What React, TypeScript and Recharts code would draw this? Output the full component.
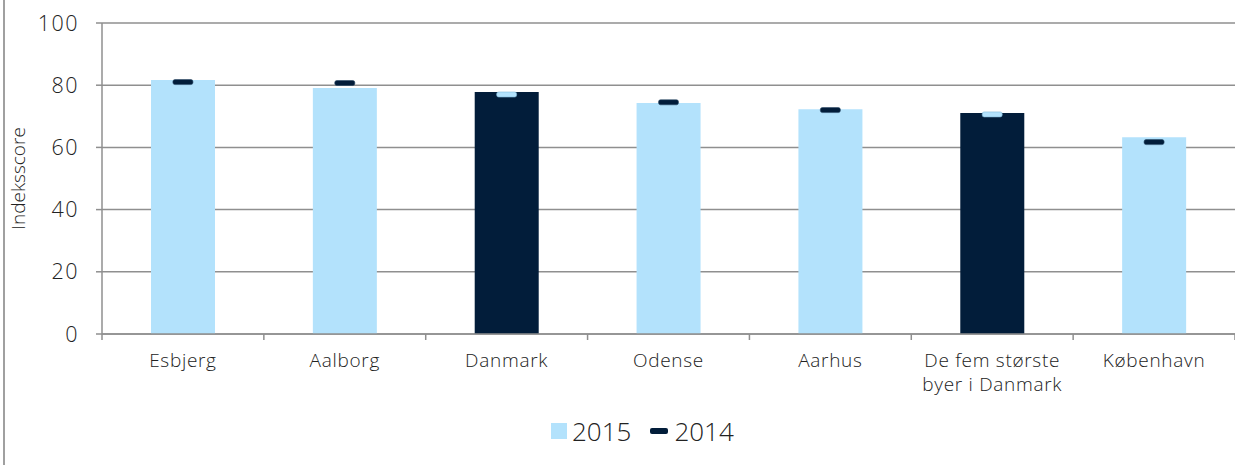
// Indeksscore by city — 2015 bars with the 2014 score as a short marker on top.

import { Bar, Cell, ComposedChart, CartesianGrid, Line, XAxis, YAxis } from "recharts";

const cities = [
  "Esbjerg",
  "Aalborg",
  "Danmark",
  "Odense",
  "Aarhus",
  "De fem største\nbyer i Danmark",
  "København",
];
const score2015 = [81.7, 79.1, 77.8, 74.3, 72.3, 71.1, 63.3];
const score2014 = [81.0, 80.7, 77.0, 74.5, 72.0, 70.6, 61.7];
const highlighted = ["Danmark", "De fem største\nbyer i Danmark"];
const yTicks = [0, 20, 40, 60, 80, 100];

const LIGHT = "#b3e2fc";
const DARK = "#021d3a";
const GRID = "#8f8f8f";
const TEXT = "#222";
const FONT = "'Open Sans', sans-serif";

const data = cities.map((city, i) => ({
  city,
  v2015: score2015[i],
  v2014: score2014[i],
}));

// category label plus the small tick marks that sit on the category edges
function CityTick({ x, y, payload, index, visibleTicksCount }: any) {
  const lines = String(payload.value).split("\n");
  const half = payload.offset ?? 0;
  const last = index === visibleTicksCount - 1;
  return (
    <g>
      <line x1={x - half} x2={x - half} y1={y - 8} y2={y - 2} stroke={GRID} strokeWidth={1.5} />
      {last && <line x1={x + half} x2={x + half} y1={y - 8} y2={y - 2} stroke={GRID} strokeWidth={1.5} />}
      <text
        x={x}
        y={y}
        textAnchor="middle"
        fill={TEXT}
        fontSize={19}
        fontFamily={FONT}
        fontWeight={300}
        letterSpacing={0.7}
      >
        {lines.map((l, i) => (
          <tspan key={i} x={x} dy={i === 0 ? 25 : 24}>
            {l}
          </tspan>
        ))}
      </text>
    </g>
  );
}

function Marker({ cx, cy, payload }: any) {
  if (cx == null || cy == null) return null;
  const onDark = highlighted.includes(payload.city);
  return (
    <rect
      x={cx - 10}
      y={cy - 2.5}
      width={20}
      height={5}
      rx={2}
      fill={onDark ? LIGHT : DARK}
      stroke={onDark ? "#7fb9d8" : "#2a4a66"}
      strokeWidth={0.6}
    />
  );
}

export default function App() {
  return (
    <div style={{ position: "absolute", left: 0, top: 0, width: 1235, height: 465, background: "#fff" }}>
      <div style={{ position: "absolute", left: 3, top: 0, width: 2, height: 465, background: "#a0a0a0" }} />
      <ComposedChart
        width={1235}
        height={465}
        data={data}
        margin={{ top: 23, right: 0, bottom: 71, left: 0 }}
        barSize={64}
      >
        <CartesianGrid vertical={false} stroke={GRID} strokeWidth={1.5} />
        <XAxis
          dataKey="city"
          interval={0}
          height={60}
          tickSize={8}
          tickMargin={0}
          axisLine={{ stroke: GRID, strokeWidth: 1.5 }}
          tickLine={false}
          tick={<CityTick />}
        />
        <YAxis
          domain={[0, 100]}
          ticks={yTicks}
          width={102}
          tickSize={6}
          tickMargin={17}
          axisLine={{ stroke: GRID, strokeWidth: 1.5 }}
          tickLine={{ stroke: GRID, strokeWidth: 1.5 }}
          tick={{ fill: TEXT, fontSize: 21.5, fontFamily: FONT, fontWeight: 300, letterSpacing: 1.5 }}
          label={{
            value: "Indeksscore",
            angle: -90,
            position: "center",
            dx: -33,
            fill: TEXT,
            fontSize: 19,
            fontFamily: FONT,
            fontWeight: 300,
          }}
        />
        <Bar dataKey="v2015" isAnimationActive={false}>
          {data.map((d) => (
            <Cell key={d.city} fill={highlighted.includes(d.city) ? DARK : LIGHT} />
          ))}
        </Bar>
        <Line
          dataKey="v2014"
          stroke="none"
          dot={<Marker />}
          activeDot={false}
          isAnimationActive={false}
        />
      </ComposedChart>
      <div
        style={{
          position: "absolute",
          top: 416,
          left: 551,
          height: 30,
          display: "flex",
          alignItems: "center",
          fontFamily: FONT,
          fontWeight: 300,
          fontSize: 26,
          color: TEXT,
          lineHeight: "30px",
        }}
      >
        <span style={{ width: 16, height: 16, background: LIGHT, display: "inline-block", marginRight: 5 }} />
        <span>2015</span>
        <span
          style={{
            width: 18,
            height: 6,
            borderRadius: 2,
            background: DARK,
            display: "inline-block",
            marginLeft: 19,
            marginRight: 6,
          }}
        />
        <span>2014</span>
      </div>
    </div>
  );
}
